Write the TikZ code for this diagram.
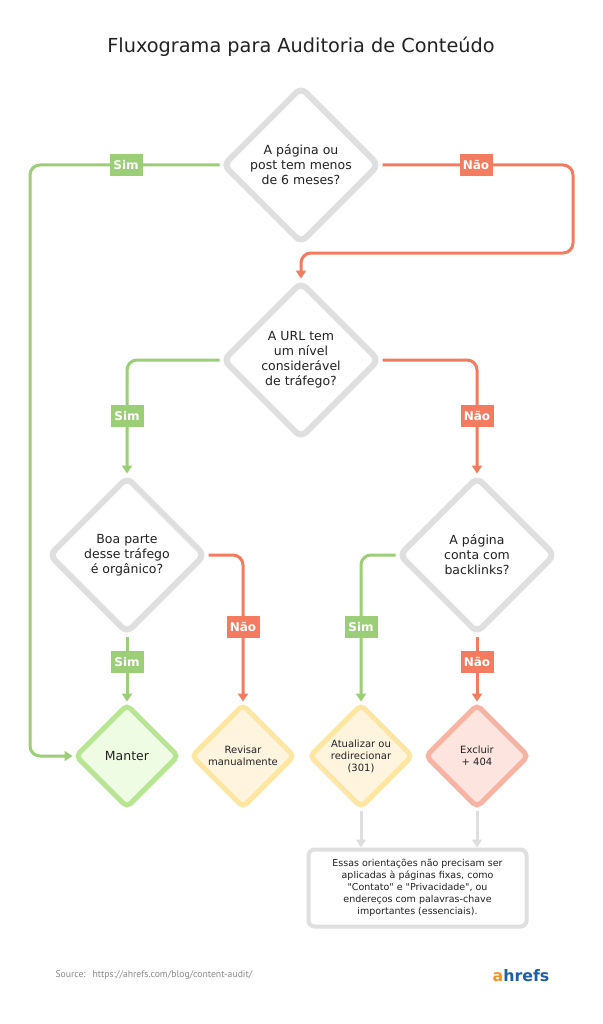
\documentclass[tikz,border=0pt]{standalone}
\usepackage{fontspec}
\setmainfont{DejaVu Sans}[Ligatures=TeXOff]
\newfontfamily\ptsans{PT Sans}
\usetikzlibrary{shapes.geometric,arrows.meta}
\definecolor{simgreen}{HTML}{9BCE76}
\definecolor{naored}{HTML}{F27B60}
\definecolor{boxgray}{HTML}{DFDFDF}
\definecolor{textdark}{HTML}{222222}
\definecolor{keepline}{HTML}{B7E592}
\definecolor{keepfill}{HTML}{EEFCE4}
\definecolor{checkline}{HTML}{FDE6A2}
\definecolor{checkfill}{HTML}{FFF5DE}
\definecolor{dropline}{HTML}{F8B4A2}
\definecolor{dropfill}{HTML}{FDE4DE}
\definecolor{footgray}{HTML}{8A8A8A}
\definecolor{ahrefsorange}{HTML}{F7941D}
\definecolor{ahrefsblue}{HTML}{1E5FA8}
\begin{document}
\begin{tikzpicture}[x=1pt,y=-1pt,
    question/.style={diamond, draw=boxgray, line width=6pt, fill=white, rounded corners=7pt,
        minimum width=157pt, minimum height=157pt, inner sep=0pt, align=center,
        font=\fontsize{12.5}{15}\selectfont, text=textdark},
    result/.style={diamond, line width=5pt, rounded corners=5pt, minimum width=104pt,
        minimum height=104pt, inner sep=0pt, align=center,
        font=\fontsize{10}{12}\selectfont, text=textdark},
    simline/.style={draw=simgreen, line width=3pt, rounded corners=10pt,
        -{Triangle[width=10pt,length=8pt]}},
    naoline/.style={draw=naored, line width=3pt, rounded corners=10pt,
        -{Triangle[width=10pt,length=8pt]}},
    grayline/.style={draw=boxgray, line width=3pt, -{Triangle[width=10pt,length=8pt]}},
    simtag/.style={fill=simgreen, text=white, font=\bfseries\fontsize{12}{14}\selectfont,
        minimum width=33pt, minimum height=22pt, inner sep=1pt},
    naotag/.style={simtag, fill=naored}]
    \useasboundingbox[fill=white] (0,0) rectangle (602,1024);

    \node[font=\fontsize{19.3}{22}\selectfont, text=textdark] (titulo) at (301,47) {Fluxograma para Auditoria de Conteúdo};

    \node[question] (q1) at (301,165) {A página ou\\post tem menos\\de 6 meses?};
    \node[question] (q2) at (301,360) {A URL tem\\um nível\\considerável\\de tráfego?};
    \node[question] (q3) at (127,555) {Boa parte\\desse tráfego\\é orgânico?};
    \node[question] (q4) at (477,555) {A página\\conta com\\backlinks?};

    \node[result, draw=keepline, fill=keepfill, font=\fontsize{12.5}{15}\selectfont] (manter) at (127,756) {Manter};
    \node[result, draw=checkline, fill=checkfill] (revisar) at (243,756) {Revisar\\manualmente};
    \node[result, draw=checkline, fill=checkfill] (atualizar) at (361,756) {Atualizar ou\\redirecionar\\(301)};
    \node[result, draw=dropline, fill=dropfill] (excluir) at (477,756) {Excluir\\+ 404};

    \node[draw=boxgray, line width=4pt, rounded corners=6pt, minimum width=218pt, minimum height=77pt,
        align=center, font=\fontsize{9.5}{12}\selectfont, text=textdark] (nota) at (417.5,888)
        {Essas orientações não precisam ser\\aplicadas à páginas fixas, como\\"Contato" e "Privacidade", ou\\endereços com palavras-chave\\importantes (essenciais).};

    \draw[simline] (q1.west) -| (30,756) -- (manter.west);
    \draw[naoline] (q1.east) -| (573,253) -| (q2.north);
    \draw[simline] (q2.west) -| (q3.north);
    \draw[naoline] (q2.east) -| (q4.north);
    \draw[simline] (q3.south) -- (manter.north);
    \draw[naoline] (q3.east) -| (revisar.north);
    \draw[simline] (q4.west) -| (atualizar.north);
    \draw[naoline] (q4.south) -- (excluir.north);
    \draw[grayline] (atualizar.south) -- (atualizar.south |- nota.north);
    \draw[grayline] (excluir.south) -- (excluir.south |- nota.north);

    \node[simtag] (sim1) at (126,165) {Sim};
    \node[naotag] (nao1) at (476,165) {Não};
    \node[simtag] (sim2) at (127,416) {Sim};
    \node[naotag] (nao2) at (477,416) {Não};
    \node[simtag] (sim3) at (127,662) {Sim};
    \node[naotag] (nao3) at (243,627) {Não};
    \node[simtag] (sim4) at (361,627) {Sim};
    \node[naotag] (nao4) at (477,662) {Não};

    \node[anchor=west, font=\ptsans\fontsize{9.7}{11}\selectfont, text=footgray] (fonte) at (52,975)
        {Source:\hspace{7pt}https://ahrefs.com/blog/content-audit/};
    \node[font=\bfseries\fontsize{15.8}{16}\selectfont] (logo) at (521,976)
        {\textcolor{ahrefsorange}{a}\textcolor{ahrefsblue}{hrefs}};
\end{tikzpicture}
\end{document}
